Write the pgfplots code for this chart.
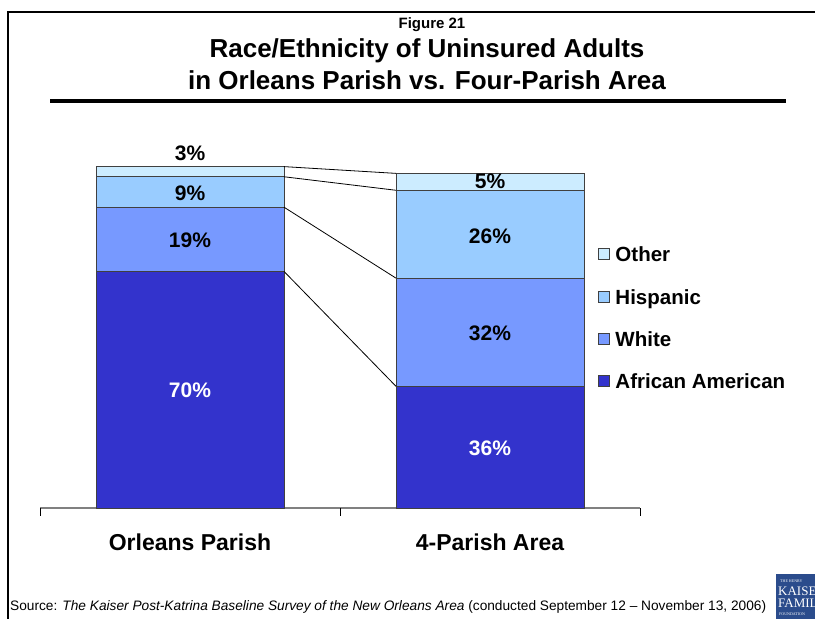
\documentclass[border=0pt]{standalone}
\usepackage{fontspec}
\setmainfont{Liberation Sans}
\newfontfamily\serifl{Liberation Serif}
\usepackage{pgfplots}
\pgfplotsset{compat=1.18}
\definecolor{aa}{HTML}{3333CC}
\definecolor{wh}{HTML}{7799FF}
\definecolor{hi}{HTML}{99CCFF}
\definecolor{ot}{HTML}{CCECFF}
\definecolor{kff}{HTML}{2B4C8C}
\begin{document}
\begin{tikzpicture}[x=1pt,y=1pt]
\useasboundingbox (0pt,0pt) rectangle (815pt,619pt);
% frame
\draw[line width=2pt] (8pt,-2pt) -- (8pt,607pt) -- (817pt,607pt);
% titles
\node[anchor=base, inner sep=0, font=\bfseries\fontsize{15}{18}\selectfont] at (432pt,590.4pt) {Figure 21};
\node[anchor=base, inner sep=0, font=\bfseries\fontsize{26}{30}\selectfont] at (427pt,561.7pt) {Race/Ethnicity of Uninsured Adults};
\node[anchor=base, inner sep=0, font=\bfseries\fontsize{26}{30}\selectfont] at (427pt,529.4pt) {in Orleans Parish vs. Four-Parish Area};
\draw[line width=4pt] (50pt,518pt) -- (786pt,518pt);
% bars
\begin{axis}[at={(40pt,111pt)}, anchor=south west, scale only axis,
  width=600pt, height=338pt,
  xmin=-0.5, xmax=1.5, ymin=0, ymax=100,
  ybar stacked, bar width=188pt,
  axis x line=bottom, axis y line=none,
  x axis line style={-, draw=gray, line width=1.5pt},
  xtick={0,1}, xticklabels={Orleans Parish, 4-Parish Area},
  major tick length=0pt,
  xticklabel style={font=\bfseries\fontsize{23}{26}\selectfont, inner sep=0pt, anchor=north, yshift=-26pt},
  extra x ticks={-0.5,0.5,1.5}, extra x tick labels={},
  extra x tick style={major tick length=8pt, tick align=outside, tick style={draw=black, line width=0.9pt}},
  clip=false,
  legend image code/.code={\draw[#1,draw=black!75,line width=0.6pt] (0pt,-4.5pt) rectangle (11pt,6.5pt); \path[draw=none,fill=none] (0pt,0pt) -- (15pt,0pt);},
  reverse legend, legend cell align=left,
  legend style={at={(0.93,0.779)}, anchor=north west, draw=none, fill=none,
    font=\bfseries\fontsize{20.5}{23}\selectfont, row sep=22pt, inner sep=0pt},
  every axis plot/.append style={draw=black!75, line width=0.8pt},
]
\addplot[fill=aa] coordinates {(0,70) (1,36)};
\addplot[fill=wh] coordinates {(0,19) (1,32)};
\addplot[fill=hi] coordinates {(0,9) (1,26)};
\addplot[fill=ot] coordinates {(0,3) (1,5)};
\legend{African American, White, Hispanic, Other}
\end{axis}
% connectors and labels
\begin{axis}[at={(40pt,111pt)}, anchor=south west, scale only axis,
  width=600pt, height=338pt,
  xmin=-0.5, xmax=1.5, ymin=0, ymax=100, hide axis, clip=false]
\addplot[black, line width=0.8pt] coordinates {(0.3133,70) (0.6867,36)};
\addplot[black, line width=0.8pt] coordinates {(0.3133,89) (0.6867,68)};
\addplot[black, line width=0.8pt] coordinates {(0.3133,98) (0.6867,94)};
\addplot[black, line width=0.8pt] coordinates {(0.3133,101) (0.6867,99)};
\begin{scope}[every node/.style={font=\bfseries\fontsize{21}{24}\selectfont, inner sep=0pt}]
\node at (axis cs:0,105) {3\%};
\node at (axis cs:0,93.2) {9\%};
\node at (axis cs:0,79.3) {19\%};
\node[white] at (axis cs:0,34.9) {70\%};
\node at (axis cs:1,96.7) {5\%};
\node at (axis cs:1,80.5) {26\%};
\node at (axis cs:1,51.8) {32\%};
\node[white] at (axis cs:1,17.8) {36\%};
\end{scope}
\end{axis}
% source
\node[anchor=base west, inner sep=0, font=\fontsize{13.7}{15}\selectfont] at (10pt,8pt) {Source: \textit{The Kaiser Post-Katrina Baseline Survey of the New Orleans Area} (conducted September 12 -- November 13, 2006)};
% logo
\fill[kff] (776pt,-1pt) rectangle (820pt,45pt);
\node[anchor=west, white, inner sep=0, font=\serifl\fontsize{4}{4}\selectfont] at (780pt,38pt) {THE HENRY};
\node[anchor=west, white, inner sep=0, font=\serifl\fontsize{13}{13}\selectfont] at (778pt,28pt) {KAISER};
\node[anchor=west, white, inner sep=0, font=\serifl\fontsize{13}{13}\selectfont] at (778pt,16pt) {FAMILY};
\node[anchor=west, white, inner sep=0, font=\serifl\fontsize{4}{4}\selectfont] at (779pt,5pt) {FOUNDATION};
\end{tikzpicture}
\end{document}
